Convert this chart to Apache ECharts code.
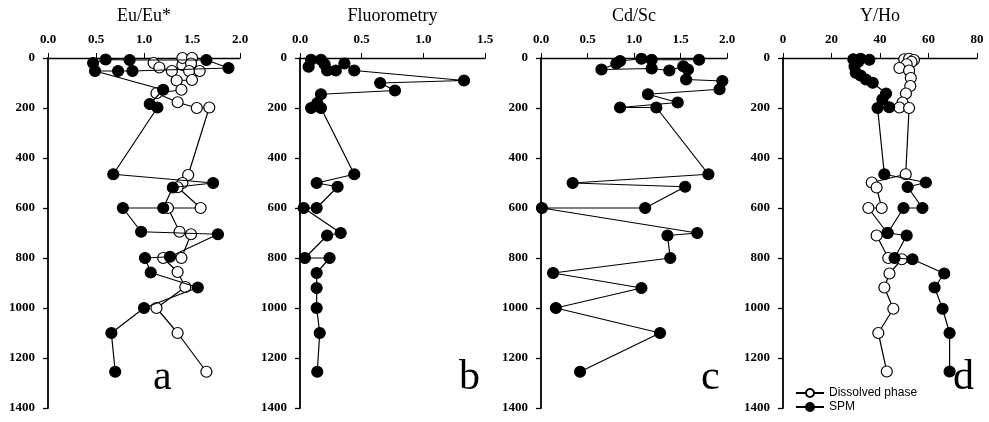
<!DOCTYPE html>
<html>
<head>
<meta charset="utf-8">
<script src="https://cdn.jsdelivr.net/npm/echarts@6/dist/echarts.min.js"></script>
<style>
  html, body { margin: 0; padding: 0; background: #fff; }
  #main { width: 989px; height: 422px; }
</style>
</head>
<body>
<div id="main"></div>
<script>
// depth profiles (m)
const depthTicks = [0, 200, 400, 600, 800, 1000, 1200, 1400];

// a: Eu/Eu*
const euSpmDepth = [20, 6, 8, 8, 40, 52, 52, 52, 127, 184, 198, 465, 500, 518, 600, 600, 695, 705, 795, 800, 858, 918, 1000, 1100, 1255];
const euSpmValue = [0.47, 0.60, 0.85, 1.65, 1.88, 0.88, 0.73, 0.49, 1.20, 1.06, 1.14, 0.68, 1.72, 1.30, 1.20, 0.78, 0.97, 1.77, 1.27, 1.01, 1.07, 1.56, 1.00, 0.66, 0.70];
const euDisDepth = [20, 38, 52, 28, 0, 0, 22, 52, 52, 88, 90, 127, 141, 177, 200, 198, 468, 500, 517, 600, 600, 695, 705, 800, 800, 856, 916, 1000, 1100, 1255];
const euDisValue = [1.10, 1.16, 1.29, 1.40, 1.40, 1.50, 1.49, 1.47, 1.58, 1.50, 1.34, 1.39, 1.13, 1.35, 1.55, 1.68, 1.46, 1.40, 1.35, 1.59, 1.25, 1.37, 1.49, 1.39, 1.20, 1.35, 1.43, 1.13, 1.35, 1.65];

// b: Fluorometry
const fluoDepth = [35, 7, 7, 25, 50, 50, 22, 50, 90, 100, 130, 145, 180, 200, 200, 465, 500, 515, 600, 600, 700, 710, 800, 800, 860, 920, 1000, 1100, 1255];
const fluoValue = [0.07, 0.09, 0.17, 0.20, 0.22, 0.29, 0.36, 0.44, 1.33, 0.65, 0.77, 0.17, 0.14, 0.09, 0.17, 0.44, 0.135, 0.305, 0.135, 0.03, 0.33, 0.22, 0.04, 0.24, 0.135, 0.135, 0.135, 0.16, 0.14];

// c: Cd/Sc
const cdDepth = [7, 7, 3, 12, 22, 46, 42, 50, 33, 46, 86, 92, 125, 145, 178, 198, 198, 465, 500, 515, 600, 600, 700, 710, 800, 860, 920, 1000, 1100, 1255];
const cdValue = [1.70, 1.19, 1.08, 0.85, 0.81, 0.65, 1.19, 1.38, 1.53, 1.58, 1.56, 1.95, 1.92, 1.15, 1.47, 0.85, 1.24, 1.80, 0.34, 1.55, 1.12, 0.01, 1.68, 1.36, 1.39, 0.13, 1.08, 0.16, 1.28, 0.42];

// d: Y/Ho
const yhoSpmDepth = [5, 3, 7, 15, 33, 59, 70, 86, 99, 142, 165, 197, 200, 465, 498, 516, 600, 600, 700, 710, 800, 805, 862, 918, 1003, 1100, 1254];
const yhoSpmValue = [29, 32, 35.6, 31, 29.5, 30, 32, 34.2, 37, 42.5, 41, 43.8, 39, 41.8, 58.9, 51.4, 57.5, 49.7, 43.2, 51, 46, 53.4, 66.5, 62.5, 65.8, 68.7, 68.7];
const yhoDisDepth = [5, 3, 8, 15, 25, 40, 50, 80, 112, 142, 178, 198, 200, 465, 498, 518, 600, 600, 700, 710, 800, 805, 862, 918, 1003, 1100, 1254];
const yhoDisValue = [50, 52, 54, 53, 51, 48, 52, 52.7, 52.5, 50.7, 49.3, 48, 52, 50.6, 36.6, 38.6, 40.7, 35.2, 43, 38.6, 43.4, 49, 43.9, 41.8, 45.5, 39.3, 42.8];

const panelNames = ['Eu/Eu*', 'Fluorometry', 'Cd/Sc', 'Y/Ho'];
const panelLetters = ['a', 'b', 'c', 'd'];

function zip(xs, ys) {
  return xs.map(function (x, i) { return [x, ys[i]]; });
}

var serif = 'Liberation Serif';
var grids = [
  { left: 48, top: 58, width: 192, height: 350 },
  { left: 300, top: 58, width: 185, height: 350 },
  { left: 541, top: 58, width: 186, height: 350 },
  { left: 783, top: 58, width: 194, height: 350 }
];
var xRanges = [
  { max: 2, interval: 0.5, dec: 1 },
  { max: 1.5, interval: 0.5, dec: 1 },
  { max: 2, interval: 0.5, dec: 1 },
  { max: 80, interval: 20, dec: 0 }
];

var xAxes = xRanges.map(function (r, i) {
  return {
    type: 'value', gridIndex: i, position: 'top', min: 0, max: r.max, interval: r.interval,
    name: panelNames[i], nameLocation: 'middle', nameGap: 33,
    nameTextStyle: { fontFamily: serif, fontSize: 18, color: '#000' },
    axisLine: { onZero: false, lineStyle: { color: '#000', width: 1.3 } },
    axisTick: { length: 5, lineStyle: { color: '#000' } },
    axisLabel: { fontFamily: serif, fontWeight: 'bold', fontSize: 13, color: '#000', margin: 12,
      formatter: function (v) { return v.toFixed(r.dec); } },
    splitLine: { show: false }
  };
});
var yAxes = grids.map(function (g, i) {
  return {
    type: 'value', gridIndex: i, inverse: true, min: 0, max: 1400, interval: 200,
    axisLine: { onZero: false, lineStyle: { color: '#000', width: 1.8 } },
    axisTick: { length: 5, lineStyle: { color: '#000', width: 1.3 } },
    axisLabel: { fontFamily: serif, fontWeight: 'bold', fontSize: 13, color: '#000', margin: 13,
      formatter: function (v) { return depthTicks.indexOf(v) >= 0 ? String(v) : ''; } },
    splitLine: { show: false }
  };
});

function profile(name, idx, data, filled) {
  return {
    name: name, type: 'line', xAxisIndex: idx, yAxisIndex: idx, data: data,
    symbol: 'circle', symbolSize: 11, showAllSymbol: true, animation: false,
    lineStyle: { color: '#000', width: 1.2 },
    itemStyle: { color: filled ? '#000' : '#fff', borderColor: '#000', borderWidth: 1.2 },
    z: filled ? 3 : 2
  };
}

var series = [
  profile('SPM', 0, zip(euSpmValue, euSpmDepth), true),
  profile('Dissolved phase', 0, zip(euDisValue, euDisDepth), false),
  profile('SPM', 1, zip(fluoValue, fluoDepth), true),
  profile('SPM', 2, zip(cdValue, cdDepth), true),
  profile('SPM', 3, zip(yhoSpmValue, yhoSpmDepth), true),
  profile('Dissolved phase', 3, zip(yhoDisValue, yhoDisDepth), false)
];

var letterX = [164, 470, 712, 964];
var graphics = panelLetters.map(function (l, i) {
  return {
    type: 'text', left: letterX[i] - 11, top: 357,
    style: { text: l, font: '42px "Liberation Serif"', fill: '#000' }
  };
});

var myChart = echarts.init(document.getElementById('main'));
myChart.setOption({
  backgroundColor: '#fff',
  animation: false,
  grid: grids,
  xAxis: xAxes,
  yAxis: yAxes,
  legend: {
    data: ['Dissolved phase', 'SPM'], orient: 'vertical', left: 790, top: 382,
    itemWidth: 28, itemHeight: 10, itemGap: 2,
    textStyle: { fontFamily: 'Liberation Sans', fontSize: 12, color: '#000' }
  },
  graphic: graphics,
  series: series
});
</script>
</body>
</html>
